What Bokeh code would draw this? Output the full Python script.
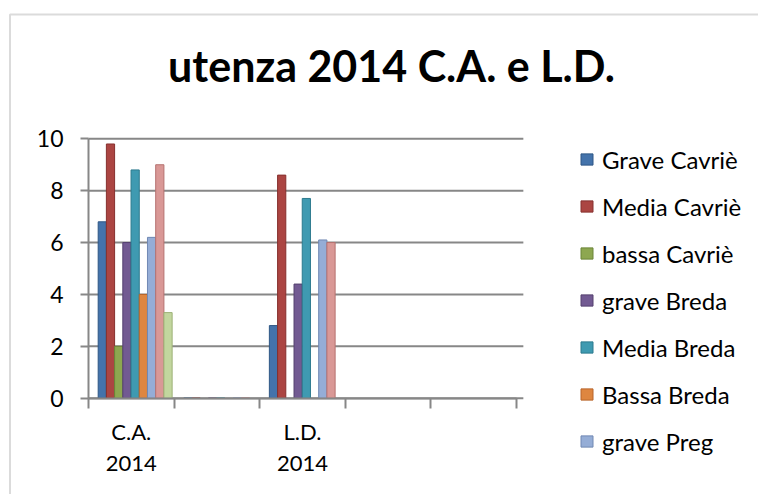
from bokeh.plotting import figure
from bokeh.models import (FixedTicker, Legend, LegendItem, ColumnDataSource, Range1d,
                          LinearAxis, Label, BoxAnnotation)
from bokeh.embed import file_html
from bokeh.resources import INLINE

nan = float("nan")

categories = ["C.A.\n2014", " ", "L.D.\n2014", "  ", "   "]
series_names = ["Grave Cavriè", "Media Cavriè", "bassa Cavriè", "grave Breda",
                "Media Breda", "Bassa Breda", "grave Preg", "media Preg", "bassa Preg"]
grave_cavrie = [6.8, 0, 2.8, nan, nan]
media_cavrie = [9.8, 0, 8.6, nan, nan]
bassa_cavrie = [2.0, nan, nan, nan, nan]
grave_breda = [6.0, 0, 4.4, nan, nan]
media_breda = [8.8, 0, 7.7, nan, nan]
bassa_breda = [4.0, nan, nan, nan, nan]
grave_preg = [6.2, 0, 6.1, nan, nan]
media_preg = [9.0, 0, 6.0, nan, nan]
bassa_preg = [3.3, nan, nan, nan, nan]
y_ticks = [0, 2, 4, 6, 8, 10]
title_text = "utenza 2014 C.A. e L.D."

series_values = [grave_cavrie, media_cavrie, bassa_cavrie, grave_breda, media_breda,
                 bassa_breda, grave_preg, media_preg, bassa_preg]
colors = ["#4473AB", "#AB4542", "#8DA750", "#725A92", "#3F9AB1", "#DE8640",
          "#95ADD6", "#D99896", "#C2D69E"]
edges = ["#2F5785", "#86302E", "#6B8538", "#54406F", "#2C7A8E", "#B8652A",
         "#7088B3", "#B57270", "#9DB277"]
legend_count = 7

FONT = "Lato"
GRAY = "#878787"

# layout (canvas pixels)
W, H = 758, 494
AXIS_X, AXIS_Y = 88.0, 397.7      # where the value axis / category axis sit
CAT_PX, UNIT_PX = 85.6, 25.94     # pixels per category / per unit

x0 = -AXIS_X / CAT_PX
x1 = (W - AXIS_X) / CAT_PX
y0 = -(H - AXIS_Y) / UNIT_PX
y1 = AXIS_Y / UNIT_PX

p = figure(width=W, height=H, output_backend="svg", toolbar_location=None,
           x_range=Range1d(x0, x1), y_range=Range1d(y0, y1),
           x_axis_location=None, y_axis_location=None,
           min_border=0, min_border_left=0, min_border_right=0,
           min_border_top=0, min_border_bottom=0)
p.title.visible = False
p.outline_line_color = None
p.xgrid.visible = False
p.ygrid.visible = False

# chart border (left and top edges visible)
p.add_layout(BoxAnnotation(left=9.5, right=5000, top=H - 14, bottom=-5000,
                           left_units="screen", right_units="screen",
                           top_units="screen", bottom_units="screen",
                           fill_alpha=0, line_color=GRAY, line_width=2))

# title
p.add_layout(Label(x=391, y=H - 65, x_units="screen", y_units="screen",
                   text=title_text, text_align="center", text_baseline="middle",
                   text_font=FONT, text_font_style="bold", text_font_size="43px",
                   text_color="black"))

# gridlines (back wall)
p.segment(x0=[0] * len(y_ticks), x1=[len(categories) + 0.08] * len(y_ticks),
          y0=y_ticks, y1=y_ticks, line_color=GRAY, line_width=2)

n = len(series_values)
bw = 0.096
renderers = []
for i, (name, vals) in enumerate(zip(series_names, series_values)):
    xs = [k + 0.5 + (i - (n - 1) / 2) * bw + 0.045 for k in range(len(categories))]
    src = ColumnDataSource(dict(x=xs, top=vals))
    r = p.vbar(x="x", top="top", bottom=0, width=bw, source=src,
               fill_color=colors[i], line_color=edges[i], line_width=1)
    renderers.append(r)

# value axis
yaxis = LinearAxis(fixed_location=0, bounds=(0, 10), ticker=FixedTicker(ticks=y_ticks))
yaxis.axis_line_color = GRAY
yaxis.axis_line_width = 2
yaxis.major_tick_line_color = GRAY
yaxis.major_tick_line_width = 2
yaxis.major_tick_out = 8
yaxis.major_tick_in = 0
yaxis.minor_tick_line_color = None
yaxis.major_label_text_font = FONT
yaxis.major_label_text_font_size = "23px"
yaxis.major_label_text_color = "black"
yaxis.major_label_standoff = 17
p.add_layout(yaxis, "left")

# category axis
centers = [k + 0.5 for k in range(len(categories))]
bounds = [k for k in range(len(categories) + 1)]
xaxis = LinearAxis(fixed_location=0, bounds=(0, len(categories)),
                   ticker=FixedTicker(ticks=centers, minor_ticks=bounds))
xaxis.major_label_overrides = {c: lab.strip() for c, lab in zip(centers, categories)}
xaxis.axis_line_color = GRAY
xaxis.axis_line_width = 2
xaxis.major_tick_line_color = None
xaxis.major_tick_out = 0
xaxis.major_tick_in = 0
xaxis.minor_tick_line_color = GRAY
xaxis.minor_tick_line_width = 2
xaxis.minor_tick_out = 10
xaxis.minor_tick_in = 0
xaxis.major_label_text_font = FONT
xaxis.major_label_text_font_size = "22px"
xaxis.major_label_text_color = "black"
xaxis.major_label_text_line_height = 1.15
xaxis.major_label_standoff = 10
p.add_layout(xaxis, "below")

items = [LegendItem(label=series_names[i], renderers=[renderers[i]]) for i in range(legend_count)]
legend = Legend(items=items, location=(579, 34 + 4), glyph_width=15, glyph_height=14,
                label_text_font=FONT, label_text_font_size="24px", label_text_color="black",
                label_height=30, spacing=17, label_standoff=8, border_line_color=None,
                background_fill_alpha=0, margin=0, padding=0)
p.add_layout(legend)

open("out.html", "w").write(file_html(p, INLINE))
